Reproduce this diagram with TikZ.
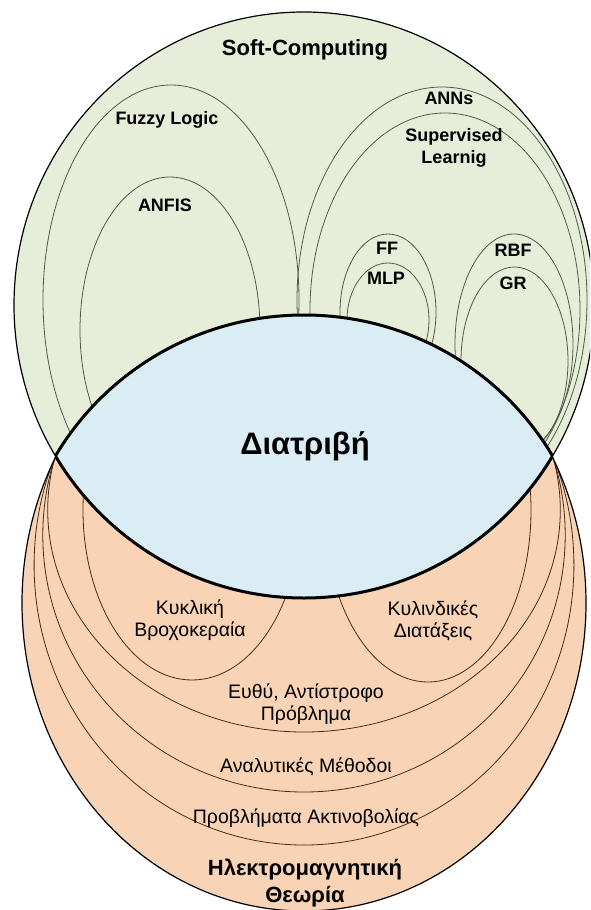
\documentclass[tikz,border=0pt]{standalone}
\usepackage{fontspec}
\setmainfont{Liberation Sans}
\definecolor{softfill}{RGB}{230,238,217}
\definecolor{emfill}{RGB}{249,211,181}
\definecolor{thesisfill}{RGB}{218,237,244}
\definecolor{softline}{RGB}{80,90,72}
\definecolor{emline}{RGB}{70,45,25}
\begin{document}
\begin{tikzpicture}[x=1pt,y=-1pt,
  outline/.style={draw=black,line width=1.2pt},
  thesisline/.style={draw=black,line width=3pt},
  softsub/.style={draw=softline,line width=0.8pt},
  emsub/.style={draw=emline,line width=0.8pt},
  lbl/.style={inner sep=0pt,align=center,font=\fontsize{18}{21.5}\selectfont\bfseries},
  emlbl/.style={inner sep=0pt,align=center,font=\fontsize{19.5}{22}\selectfont},
  title/.style={inner sep=0pt,align=center,font=\fontsize{22}{26}\selectfont\bfseries}]
\useasboundingbox (0,0) rectangle (590,910);
\fill[white] (0,0) rectangle (590,910);
\clip (0,0) rectangle (590,910);

% Electromagnetic theory (lower set) and its nested subsets
\fill[emfill] (304,603) ellipse [x radius=282pt, y radius=308pt];
\begin{scope}
  \clip (304,603) ellipse [x radius=282pt, y radius=308pt];
  \draw[emsub] (304,565) ellipse [x radius=269.9pt, y radius=280pt];
  \draw[emsub] (304,535) ellipse [x radius=261.2pt, y radius=257pt];
  \draw[emsub] (304,510) ellipse [x radius=256.3pt, y radius=222pt];
  \draw[emsub] (192,510) ellipse [x radius=109pt, y radius=170pt];
  \draw[emsub] (428,510) ellipse [x radius=103pt, y radius=172pt];
\end{scope}
\draw[outline] (304,603) ellipse [x radius=282pt, y radius=308pt];

% Soft computing (upper set) and its nested subsets
\fill[softfill] (304,305) ellipse [x radius=290pt, y radius=293pt];
\begin{scope}
  \clip (304,305) ellipse [x radius=290pt, y radius=293pt];
  \draw[softsub] (171,300) ellipse [x radius=128pt, y radius=215pt];
  \draw[softsub] (170,330) ellipse [x radius=90pt, y radius=153pt];
  \draw[softsub] (442,300) ellipse [x radius=145pt, y radius=213pt];
  \draw[softsub] (445,310) ellipse [x radius=135pt, y radius=197pt];
  \draw[softsub] (388,312) ellipse [x radius=48pt, y radius=78pt];
  \draw[softsub] (388,320) ellipse [x radius=41pt, y radius=57pt];
  \draw[softsub] (514,344) ellipse [x radius=59pt, y radius=110pt];
  \draw[softsub] (514.5,361) ellipse [x radius=53.5pt, y radius=94pt];
\end{scope}
\draw[outline] (304,305) ellipse [x radius=290pt, y radius=293pt];

% Thesis: the lens where both sets meet
\begin{scope}
  \clip (304,305) ellipse [x radius=290pt, y radius=293pt];
  \fill[thesisfill] (304,600) ellipse [x radius=288pt, y radius=285pt];
  \draw[thesisline] (304,600) ellipse [x radius=288pt, y radius=285pt];
\end{scope}
\begin{scope}
  \clip (304,600) ellipse [x radius=288pt, y radius=285pt];
  \draw[thesisline] (304,305) ellipse [x radius=290pt, y radius=293pt];
\end{scope}

% Labels
\node[title] (soft) at (305,50) {Soft-Computing};
\node[lbl] (fuzzy) at (167,120) {Fuzzy Logic};
\node[lbl] (anfis) at (165,205) {ANFIS};
\node[lbl] (anns) at (449,98) {ANNs};
\node[lbl] (superv) at (454,148) {Supervised\\Learnig};
\node[lbl] (ff) at (387,248) {FF};
\node[lbl] (mlp) at (386,278) {MLP};
\node[lbl] (rbf) at (513,250) {RBF};
\node[lbl] (gr) at (513,283) {GR};
\node[inner sep=0pt,font=\fontsize{31}{35}\selectfont\bfseries] (thesis) at (305,446) {Διατριβή};
\node[emlbl] (loop) at (190,620) {Κυκλική\\Βροχοκεραία};
\node[emlbl] (cyl) at (433,621) {Κυλινδικές\\Διατάξεις};
\node[emlbl] (inverse) at (306,704) {Ευθύ, Αντίστροφο\\Πρόβλημα};
\node[emlbl] (analytic) at (306,767) {Αναλυτικές Μέθοδοι};
\node[emlbl] (radiation) at (306,818) {Προβλήματα Ακτινοβολίας};
\node[inner sep=0pt,align=center,font=\fontsize{22}{27}\selectfont\bfseries] (emt) at (305,883) {Ηλεκτρομαγνητική\\Θεωρία};
\end{tikzpicture}
\end{document}
